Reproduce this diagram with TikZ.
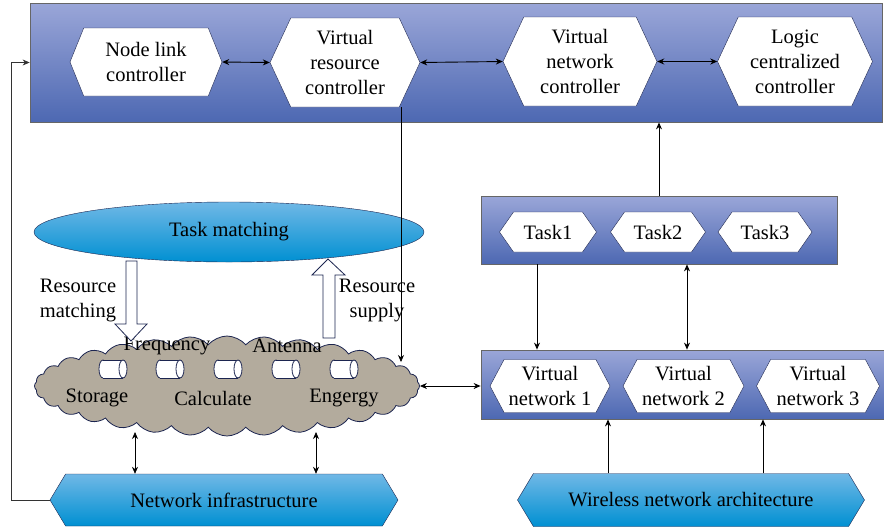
\documentclass[tikz,border=0pt]{standalone}
\usepackage{fontspec}
\setmainfont{Liberation Serif}
\usetikzlibrary{shapes}
\usetikzlibrary{shapes.symbols}
\usetikzlibrary{arrows.meta}
\usetikzlibrary{positioning}
\definecolor{panelTop}{HTML}{9AA6D8}
\definecolor{panelBot}{HTML}{4D68B2}
\definecolor{skyTop}{HTML}{70B8E6}
\definecolor{skyBot}{HTML}{0090D2}
\definecolor{navy}{HTML}{1C2550}
\definecolor{cloudFill}{HTML}{B3AB9D}

\begin{document}
\begin{tikzpicture}[x=1pt, y=-1pt,
  every node/.style={font=\fontsize{20.5}{25}\selectfont, inner sep=0pt},
  panel/.style={draw=black!60, line width=0.8pt, top color=panelTop, bottom color=panelBot},
  hexbox/.style={draw=navy, fill=white, signal, signal to=west and east, signal pointer angle=130, align=center},
  base/.style={draw=navy, top color=skyTop, bottom color=skyBot, signal, signal to=west and east, signal pointer angle=118},
  slotline/.style={draw=navy, fill=white, line width=0.8pt},
  hollow/.style={draw=navy, fill=white, line width=0.8pt},
  arr/.style={-{Stealth[length=7pt,width=6pt]}, line width=0.9pt},
  dbl/.style={{Stealth[length=7pt,width=6pt]}-{Stealth[length=7pt,width=6pt]}, line width=0.9pt}]
\useasboundingbox (0,0) rectangle (884,531);

\node[panel, minimum width=852pt, minimum height=119pt] (ctrl) at (456,62.5) {};
\node[hexbox, signal pointer angle=136, minimum width=152pt, minimum height=68pt] (nlc) at (146,62) {Node link\\controller};
\node[hexbox, minimum width=150pt, minimum height=89pt] (vrc) at (345,62.5) {Virtual\\resource\\controller};
\node[hexbox, minimum width=154pt, minimum height=89pt] (vnc) at (580,61.5) {Virtual\\network\\controller};
\node[hexbox, minimum width=155pt, minimum height=89pt] (lcc) at (795,61.5) {Logic\\centralized\\controller};

\node[panel, minimum width=356pt, minimum height=68pt] (taskbar) at (659,230) {};
\node[hexbox, signal pointer angle=110, minimum width=97pt, minimum height=40pt] (t1) at (548,232) {Task1};
\node[hexbox, signal pointer angle=110, minimum width=95pt, minimum height=40pt] (t2) at (658,232) {Task2};
\node[hexbox, signal pointer angle=110, minimum width=94pt, minimum height=40pt] (t3) at (765,232) {Task3};

\node[panel, minimum width=403pt, minimum height=69pt] (vnbar) at (682.5,384.5) {};
\node[hexbox, signal pointer angle=124, minimum width=120pt, minimum height=53pt] (vn1) at (550,386) {Virtual\\network 1};
\node[hexbox, signal pointer angle=124, minimum width=121pt, minimum height=53pt] (vn2) at (683.5,386) {Virtual\\network 2};
\node[hexbox, signal pointer angle=124, minimum width=123pt, minimum height=53pt] (vn3) at (818,386) {Virtual\\network 3};

\node[draw=navy, top color=skyTop, bottom color=skyBot, ellipse, minimum width=390pt, minimum height=60pt] (match) at (229,232) {Task matching};

\node[draw=navy, fill=cloudFill, line width=0.8pt, cloud, cloud puffs=32, cloud puff arc=100, minimum width=385pt, minimum height=100pt] (pool) at (227,386) {};
\foreach \x in {113,170,228,286,344} {
  \draw[slotline] (\x-10,369) ellipse [x radius=4, y radius=9];
  \fill[white] (\x-10,360) rectangle (\x+10,378);
  \draw[navy, line width=0.8pt] (\x-10,360) -- (\x+10,360) (\x-10,378) -- (\x+10,378);
  \draw[slotline] (\x+10,369) ellipse [x radius=4, y radius=9];
}
\node (freq) at (167,346) {Frequency};
\node (ant) at (287,346) {Antenna};
\node (stor) at (97,398) {Storage};
\node (calc) at (213,398) {Calculate};
\node (ener) at (344,398) {Engergy};

\node[base, minimum width=348pt, minimum height=52pt] (infra) at (224,500) {Network infrastructure};
\node[base, minimum width=347pt, minimum height=53pt] (wna) at (691,500) {Wireless network architecture};

\node (rm) at (78,300) [align=center] {Resource\\matching};
\node (rs) at (377,300) [align=center] {Resource\\supply};

\draw[hollow] (126,261) -- (137,261) -- (137,324) -- (147,324) -- (131,341) -- (115,324) -- (126,324) -- cycle;
\draw[hollow] (323,338) -- (335,338) -- (335,275) -- (345,275) -- (328,259) -- (312,275) -- (323,275) -- cycle;

\draw[dbl] (nlc.east) -- (vrc.west);
\draw[dbl] (vrc.east) -- (vnc.west);
\draw[dbl] (vnc.east) -- (lcc.west);

\draw[arr, black!80, line width=0.7pt] (infra.west) -- ++(-38,0) |- (ctrl.west);
\coordinate (drop) at (401,362);
\draw[arr, line width=0.7pt] (drop |- vrc.south) -- (drop);
\draw[dbl] (pool.east) -- (pool.east -| vnbar.west);

\draw[arr] (taskbar.north) -- (taskbar.north |- ctrl.south);
\coordinate (c1) at (537,0);
\coordinate (c2) at (687,0);
\draw[arr] (taskbar.south -| c1) -- (vnbar.north -| c1);
\draw[dbl, line width=0.7pt] (taskbar.south -| c2) -- (vnbar.north -| c2);

\coordinate (g1) at (135,432);
\coordinate (g2) at (316,432);
\draw[dbl, line width=0.7pt] (g1) -- (infra.north -| g1);
\draw[dbl, line width=0.7pt] (g2) -- (infra.north -| g2);

\coordinate (w1) at (608,0);
\coordinate (w2) at (763,0);
\draw[arr] (wna.north -| w1) -- (vnbar.south -| w1);
\draw[arr, line width=0.7pt] (wna.north -| w2) -- (vnbar.south -| w2);
\end{tikzpicture}
\end{document}
